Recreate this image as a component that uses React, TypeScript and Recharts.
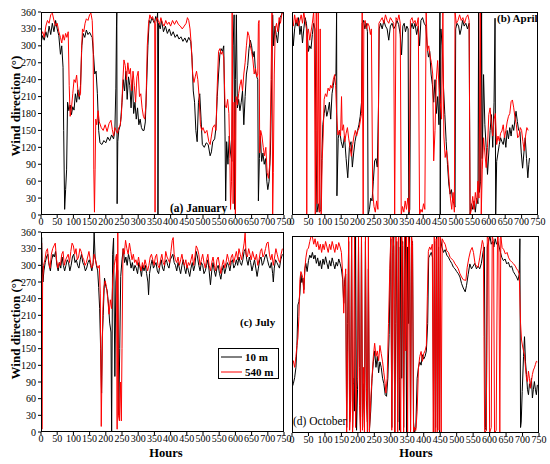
import React from 'react';
import { LineChart, Line, XAxis, YAxis } from 'recharts';

type Pt = [number, number];

const hourTicks = [0, 50, 100, 150, 200, 250, 300, 350, 400, 450, 500, 550, 600, 650, 700, 750];
const dirTicks = [0, 30, 60, 90, 120, 150, 180, 210, 240, 270, 300, 330, 360];

// January, hour / direction
const jan10: Pt[] = [
  [0,305],[5,318],[10,310],[15,325],[20,315],[25,335],[30,320],[35,340],[40,325],[45,345],[50,330],[55,318],[60,285],[64,300],[68,262],[70,150],[73,10],[76,45],[79,80],[82,200],[86,185],[90,195],[94,178],[98,192],[102,186],[106,215],[110,200],[114,222],[118,205],[122,230],[126,300],[130,322],[135,315],[140,328],[145,320],[150,324],[155,318],[158,315],[162,285],[166,250],[170,255],[174,215],[178,150],[182,128],[188,125],[194,132],[200,128],[206,138],[212,132],[218,142],[224,135],[228,150],[231,225],[233,335],[234,360],[235,20],[237,130],[240,150],[245,160],[250,200],[254,240],[258,220],[262,255],[266,205],[270,245],[274,230],[278,190],[282,240],[286,180],[290,200],[294,170],[298,190],[302,160],[306,170],[310,155],[314,150],[318,150],[322,165],[326,230],[330,300],[334,345],[338,340],[342,350],[346,345],[350,340],[354,352],[358,345],[360,360],[361,0],[363,340],[368,330],[372,345],[378,325],[384,335],[390,322],[396,330],[402,318],[408,325],[414,315],[420,320],[426,312],[432,316],[438,308],[444,314],[450,306],[456,315],[462,308],[466,280],[470,220],[474,200],[478,150],[482,130],[486,200],[490,215],[494,170],[498,125],[504,120],[510,128],[516,125],[522,105],[526,112],[530,130],[536,135],[540,155],[544,210],[548,250],[552,285],[556,295],[560,290],[564,300],[568,140],[570,25],[573,130],[577,90],[581,140],[585,110],[589,95],[593,300],[596,355],[598,10],[600,240],[603,355],[606,190],[610,205],[614,185],[618,200],[622,220],[626,160],[630,210],[634,250],[638,265],[642,295],[646,310],[650,300],[654,280],[658,290],[662,255],[666,245],[669,240],[671,25],[674,100],[677,140],[681,95],[685,110],[689,90],[693,100],[697,60],[700,45],[704,60],[708,110],[712,240],[715,355],[718,300],[722,335],[726,320],[730,305],[734,330],[738,350],[742,355],[745,360],
];
const jan540: Pt[] = [
  [0,318],[5,325],[10,315],[15,335],[20,345],[25,340],[30,355],[35,358],[40,345],[45,335],[50,340],[55,325],[60,315],[64,305],[68,320],[72,310],[76,322],[80,315],[84,325],[87,230],[90,175],[94,190],[98,215],[102,240],[106,235],[110,248],[114,220],[118,210],[122,215],[125,290],[128,330],[132,325],[136,340],[140,348],[145,345],[150,355],[154,358],[158,345],[161,300],[163,80],[165,5],[167,80],[169,170],[172,160],[176,185],[180,165],[186,155],[192,150],[198,160],[204,148],[210,162],[216,168],[220,152],[224,140],[228,155],[232,150],[236,145],[240,155],[244,158],[248,175],[252,230],[256,275],[260,265],[264,240],[268,270],[272,250],[276,260],[280,220],[284,255],[288,230],[292,200],[296,245],[300,255],[304,210],[308,215],[312,190],[316,175],[320,170],[324,195],[328,300],[332,340],[336,355],[340,348],[344,352],[348,345],[351,340],[352,5],[354,340],[358,350],[362,345],[366,338],[370,350],[375,340],[380,335],[385,345],[390,338],[395,342],[400,335],[406,345],[412,338],[418,345],[424,338],[430,335],[436,330],[442,335],[448,340],[452,350],[456,345],[460,330],[464,300],[468,250],[472,235],[476,245],[480,255],[484,240],[488,210],[492,160],[496,150],[500,155],[506,145],[512,150],[518,130],[522,125],[526,140],[530,155],[536,160],[540,150],[544,230],[548,290],[552,295],[556,285],[560,290],[564,280],[568,195],[572,190],[576,205],[580,180],[583,100],[585,10],[588,60],[590,360],[593,20],[596,200],[600,0],[602,210],[606,195],[610,215],[614,230],[618,240],[622,220],[626,250],[630,270],[634,300],[638,325],[642,318],[646,300],[650,290],[654,275],[658,250],[662,260],[666,245],[669,250],[671,340],[673,345],[675,110],[678,150],[682,140],[686,120],[690,105],[694,120],[698,75],[702,65],[706,90],[710,240],[713,360],[715,0],[717,75],[720,250],[723,330],[727,340],[731,325],[735,350],[739,340],[743,355],[746,360],
];

// April
const apr10: Pt[] = [
  [0,340],[4,300],[8,330],[12,345],[16,335],[20,350],[24,320],[28,335],[32,305],[36,330],[40,350],[44,340],[47,320],[50,290],[54,300],[58,295],[62,320],[66,340],[70,330],[73,150],[76,5],[80,20],[84,5],[88,10],[91,100],[94,160],[98,180],[102,195],[106,175],[110,185],[114,200],[118,170],[122,215],[126,230],[130,245],[134,250],[136,360],[137,34],[141,136],[145,150],[150,130],[155,119],[160,140],[165,100],[170,66],[175,120],[180,130],[184,85],[188,110],[192,130],[196,142],[200,150],[204,160],[208,175],[212,200],[214,340],[218,345],[222,330],[226,340],[230,325],[232,0],[236,10],[240,30],[244,25],[248,60],[252,96],[256,100],[260,85],[264,200],[266,330],[270,340],[275,330],[280,345],[285,335],[290,330],[295,310],[300,335],[305,340],[310,330],[315,335],[320,345],[325,338],[330,320],[334,284],[338,335],[342,340],[346,325],[350,335],[354,330],[356,0],[359,10],[362,330],[366,340],[370,330],[375,340],[380,320],[385,335],[389,300],[393,345],[398,350],[403,340],[408,335],[412,300],[416,280],[420,290],[424,250],[428,231],[432,200],[436,240],[440,180],[444,210],[448,160],[451,360],[452,0],[454,330],[458,300],[462,225],[466,178],[470,130],[474,90],[478,55],[482,37],[486,45],[490,25],[494,20],[497,14],[499,330],[503,340],[508,335],[512,320],[516,330],[520,345],[525,335],[530,340],[535,330],[540,340],[543,0],[547,20],[551,10],[555,25],[559,5],[563,30],[567,20],[569,360],[571,40],[575,60],[578,360],[580,100],[584,249],[588,160],[592,120],[596,72],[600,110],[604,150],[608,178],[612,120],[616,200],[619,349],[621,0],[624,95],[628,110],[632,125],[636,137],[640,130],[644,125],[648,140],[652,120],[656,150],[660,135],[664,155],[668,140],[672,160],[676,150],[680,170],[683,184],[687,166],[691,150],[695,148],[699,110],[703,83],[707,110],[711,137],[715,100],[719,66],[722,90],[724,101],
];
const apr540: Pt[] = [
  [0,345],[4,335],[8,355],[12,340],[16,350],[20,335],[24,345],[28,355],[32,340],[36,360],[40,345],[44,330],[45,0],[47,320],[50,330],[54,310],[58,325],[62,340],[66,360],[68,330],[71,0],[74,360],[77,20],[80,360],[83,5],[86,330],[89,0],[92,97],[95,140],[98,205],[102,215],[106,210],[110,225],[114,220],[118,230],[122,225],[126,240],[130,249],[133,230],[136,180],[140,142],[144,150],[148,140],[151,210],[153,150],[157,160],[161,130],[165,145],[169,155],[173,135],[177,120],[181,104],[185,125],[189,140],[193,150],[197,140],[201,150],[205,155],[209,170],[212,180],[214,360],[217,0],[219,340],[223,345],[227,330],[231,340],[235,335],[239,320],[242,330],[246,40],[250,15],[254,5],[258,25],[262,10],[265,340],[270,345],[275,350],[280,340],[285,355],[290,345],[295,340],[300,350],[305,345],[310,340],[313,0],[317,350],[322,345],[326,355],[330,340],[333,0],[337,15],[341,5],[345,25],[349,10],[353,30],[357,5],[361,345],[366,350],[370,340],[375,345],[380,335],[385,350],[389,0],[393,10],[397,5],[401,20],[405,10],[409,360],[413,291],[417,300],[421,282],[425,270],[429,250],[432,96],[436,150],[440,240],[444,274],[448,230],[452,200],[456,170],[460,360],[463,140],[467,102],[471,115],[475,95],[479,60],[483,30],[487,10],[491,40],[495,5],[497,360],[501,340],[506,345],[511,355],[516,345],[521,350],[526,340],[531,350],[536,355],[540,345],[543,0],[547,10],[551,33],[555,10],[559,40],[563,20],[567,60],[570,30],[574,360],[577,0],[580,80],[584,137],[588,110],[592,84],[596,120],[600,178],[604,190],[608,160],[612,140],[616,170],[620,180],[624,125],[628,140],[632,131],[636,145],[640,149],[644,160],[648,137],[652,150],[656,165],[660,175],[664,180],[668,201],[672,204],[676,190],[680,172],[684,160],[688,137],[692,140],[696,155],[700,150],[704,130],[708,114],[712,140],[716,155],[720,150],
];

// July
const jul10: Pt[] = [
  [0,325],[2,350],[4,300],[6,270],[9,290],[13,305],[17,315],[21,320],[25,300],[29,290],[33,310],[37,320],[41,315],[45,325],[49,300],[53,290],[57,305],[61,295],[65,315],[69,300],[73,290],[77,300],[81,310],[85,305],[89,290],[93,300],[97,315],[101,320],[105,305],[109,310],[113,300],[117,295],[121,310],[125,320],[129,305],[133,300],[137,290],[141,295],[145,305],[149,310],[153,300],[157,290],[161,305],[164,360],[167,315],[171,300],[175,290],[178,260],[181,222],[184,150],[187,70],[189,169],[192,210],[196,277],[200,262],[204,255],[208,232],[212,196],[216,180],[218,0],[221,320],[224,349],[228,100],[231,270],[234,300],[237,290],[240,30],[243,150],[246,280],[250,310],[254,330],[258,305],[262,315],[266,300],[270,320],[274,310],[278,295],[282,305],[286,290],[290,300],[294,295],[298,285],[302,305],[306,295],[310,280],[314,300],[318,290],[322,300],[326,285],[330,270],[332,247],[335,285],[339,300],[343,310],[347,295],[351,300],[355,305],[359,290],[363,285],[367,300],[371,310],[375,295],[379,290],[383,305],[387,310],[391,300],[395,295],[399,310],[403,315],[407,320],[411,305],[415,300],[419,290],[423,305],[427,295],[431,285],[435,300],[439,310],[443,295],[447,285],[451,300],[455,290],[459,280],[463,295],[467,305],[471,290],[475,300],[479,325],[483,315],[487,300],[491,290],[495,305],[499,300],[503,285],[507,290],[511,300],[515,310],[519,290],[523,265],[527,290],[531,305],[535,290],[539,280],[543,295],[547,300],[551,285],[555,275],[559,290],[563,300],[567,285],[571,295],[575,305],[579,300],[583,290],[587,305],[591,310],[595,295],[599,300],[603,310],[607,300],[611,315],[615,305],[619,300],[623,310],[627,325],[631,330],[635,310],[639,300],[643,315],[647,305],[651,290],[655,300],[659,310],[663,295],[667,280],[671,295],[675,310],[679,315],[683,300],[687,305],[691,315],[695,320],[699,310],[703,300],[707,295],[711,305],[715,285],[717,270],[720,295],[724,310],[728,305],[732,300],[736,295],[740,310],[745,320],
];
const jul540: Pt[] = [
  [0,320],[2,340],[3,5],[5,270],[8,300],[12,310],[16,325],[20,330],[24,305],[28,295],[32,320],[36,330],[40,335],[44,340],[48,310],[52,295],[56,305],[60,300],[64,320],[68,325],[72,300],[76,310],[80,315],[84,320],[88,305],[92,325],[96,340],[100,335],[104,320],[108,330],[112,310],[116,315],[120,330],[124,325],[128,315],[132,310],[136,300],[140,305],[144,315],[148,325],[152,310],[156,295],[160,300],[164,320],[168,310],[172,300],[176,295],[180,300],[183,250],[186,10],[188,100],[191,220],[194,260],[198,272],[202,262],[206,240],[210,212],[214,238],[218,222],[222,280],[226,300],[230,312],[233,320],[235,5],[237,360],[239,30],[242,20],[245,90],[248,20],[250,150],[253,330],[257,320],[261,345],[265,330],[269,320],[273,340],[277,325],[281,310],[285,320],[289,305],[293,310],[297,300],[301,315],[305,300],[309,290],[313,305],[317,295],[321,310],[325,300],[329,290],[333,300],[337,315],[341,320],[345,310],[349,300],[353,315],[357,320],[361,300],[365,295],[369,310],[373,320],[377,305],[381,300],[385,325],[389,315],[393,310],[397,305],[401,325],[405,345],[408,350],[411,320],[415,310],[419,305],[423,315],[427,300],[431,310],[435,320],[439,305],[443,300],[447,310],[451,295],[455,305],[459,300],[463,310],[467,320],[471,300],[475,315],[479,335],[483,330],[487,320],[491,300],[495,310],[499,320],[503,305],[507,295],[511,310],[515,320],[519,300],[523,290],[527,305],[531,315],[535,300],[539,290],[543,310],[547,315],[551,300],[555,285],[559,300],[563,310],[567,295],[571,305],[575,320],[579,310],[583,300],[587,315],[591,320],[595,305],[599,315],[603,325],[607,310],[611,330],[615,320],[619,310],[623,325],[627,340],[630,358],[633,320],[637,315],[641,330],[645,320],[649,310],[653,325],[657,315],[661,310],[665,320],[669,300],[673,310],[677,325],[681,330],[685,315],[689,320],[693,330],[697,340],[701,342],[705,320],[709,310],[713,320],[717,300],[721,315],[725,330],[729,320],[733,310],[737,305],[741,320],[745,330],
];

// October
const oct10: Pt[] = [
  [0,83],[4,90],[8,101],[12,120],[15,160],[18,234],[21,240],[24,254],[27,290],[30,275],[33,283],[36,262],[39,300],[42,310],[46,295],[50,315],[54,325],[58,320],[62,330],[66,318],[70,325],[74,310],[78,320],[82,305],[86,315],[90,300],[94,318],[98,308],[102,322],[106,310],[110,300],[114,315],[118,305],[122,320],[126,310],[130,300],[134,312],[138,305],[142,318],[146,310],[150,300],[154,280],[157,237],[160,280],[163,290],[166,10],[169,200],[172,350],[175,20],[178,60],[181,360],[184,10],[187,100],[190,40],[193,360],[196,5],[199,80],[202,340],[205,120],[208,0],[211,360],[214,30],[217,90],[220,10],[223,350],[226,60],[229,20],[232,300],[235,5],[239,40],[243,100],[247,130],[251,150],[255,120],[259,140],[263,110],[267,130],[271,120],[275,100],[279,90],[283,70],[287,67],[291,100],[295,180],[298,300],[300,355],[303,10],[306,330],[309,360],[312,0],[315,200],[318,350],[321,20],[324,340],[327,5],[330,360],[333,100],[336,350],[339,10],[342,300],[345,360],[348,0],[351,340],[354,200],[357,360],[360,5],[363,330],[366,350],[369,20],[372,0],[376,10],[380,100],[384,120],[388,130],[392,124],[396,143],[400,135],[404,140],[408,150],[412,200],[415,320],[419,325],[423,330],[427,320],[430,0],[433,350],[436,10],[439,360],[442,5],[445,340],[448,0],[451,355],[455,340],[460,330],[465,335],[470,325],[475,321],[480,315],[485,310],[490,303],[495,300],[500,295],[505,291],[510,285],[515,273],[520,265],[526,258],[530,270],[535,290],[540,309],[545,300],[550,305],[555,310],[560,300],[565,305],[570,300],[575,310],[580,330],[584,340],[587,10],[590,5],[593,340],[597,350],[601,360],[605,345],[609,350],[613,340],[617,355],[621,345],[625,350],[629,340],[633,330],[637,321],[642,315],[647,318],[652,309],[657,312],[662,303],[667,305],[672,295],[677,290],[682,285],[686,279],[690,290],[692,355],[694,10],[696,20],[699,76],[703,140],[706,176],[709,130],[712,107],[715,80],[718,70],[721,90],[724,82],[727,100],[730,64],[733,80],[736,94],[739,80],[742,70],[745,88],
];
const oct540: Pt[] = [
  [0,130],[4,132],[8,120],[12,140],[15,160],[18,174],[21,213],[24,280],[27,295],[30,290],[33,283],[36,255],[39,300],[42,320],[46,335],[50,338],[54,350],[58,360],[62,358],[66,345],[70,355],[74,340],[78,350],[82,335],[86,345],[90,330],[94,345],[98,335],[102,350],[106,340],[110,330],[114,345],[118,335],[122,350],[126,340],[130,330],[134,345],[138,335],[142,348],[146,340],[150,330],[154,290],[157,219],[160,270],[163,300],[166,0],[169,150],[172,360],[175,5],[178,40],[181,360],[184,0],[187,90],[190,360],[193,10],[196,83],[199,100],[202,360],[205,50],[208,0],[211,360],[214,5],[217,120],[220,0],[223,360],[226,80],[229,0],[232,360],[235,0],[239,60],[243,101],[247,140],[251,164],[255,140],[259,150],[263,132],[267,160],[271,145],[275,130],[279,110],[283,90],[285,73],[289,100],[293,200],[297,300],[300,360],[303,5],[306,360],[309,340],[312,0],[315,360],[318,355],[321,0],[324,360],[327,100],[330,0],[333,360],[336,340],[339,0],[342,360],[345,150],[348,360],[351,0],[354,360],[357,340],[360,0],[363,360],[366,345],[369,0],[372,10],[376,5],[380,40],[384,119],[388,140],[392,149],[396,131],[400,145],[404,150],[408,160],[411,250],[414,332],[418,340],[422,335],[426,345],[429,0],[432,360],[435,0],[438,355],[441,0],[444,360],[447,5],[450,360],[453,0],[456,355],[460,350],[465,345],[470,333],[475,330],[480,321],[485,318],[490,315],[495,309],[500,305],[505,300],[510,291],[515,285],[520,280],[528,279],[532,303],[537,320],[542,333],[547,339],[551,330],[556,309],[560,305],[565,303],[570,320],[575,340],[578,352],[581,345],[583,176],[585,0],[590,5],[593,360],[597,355],[600,0],[605,10],[608,360],[612,350],[615,0],[620,5],[624,360],[628,355],[631,0],[634,360],[638,339],[643,335],[648,327],[653,330],[658,320],[663,315],[668,312],[673,309],[678,305],[682,300],[686,297],[690,291],[694,200],[697,170],[700,159],[703,150],[706,143],[709,119],[712,100],[715,94],[718,113],[721,100],[724,82],[727,95],[730,107],[733,115],[736,119],[739,125],[742,131],[745,130],
];

const FONT = '"Liberation Serif", "Times New Roman", serif';

const toRows = (pts: Pt[]) => pts.map(([h, v]) => ({ h, v }));

interface PanelProps {
  left: number;
  top: number;
  right: number;
  bottom: number;
  s10: Pt[];
  s540: Pt[];
  showY: boolean;
}

const Panel: React.FC<PanelProps> = ({ left, top, right, bottom, s10, s540, showY }) => {
  const yw = 41;
  const mt = 8;
  const mr = 14;
  const xh = 16;
  const mb = 10;
  const w = right - left + yw + mr;
  const h = bottom - top + mt + xh + mb;
  return (
    <div style={{ position: 'absolute', left: left - yw, top: top - mt, width: w, height: h }}>
      <LineChart width={w} height={h} margin={{ top: mt, right: mr, left: 0, bottom: mb }}>
        <XAxis
          type="number"
          dataKey="h"
          domain={[0, 750]}
          ticks={hourTicks}
          interval={0}
          allowDataOverflow
          height={xh}
          tickSize={3}
          tickMargin={0}
          axisLine={false}
          stroke="#000"
          tick={{ fill: '#000', fontSize: 10, fontFamily: FONT }}
        />
        <YAxis
          type="number"
          domain={[0, 360]}
          ticks={dirTicks}
          interval={0}
          allowDataOverflow
          width={yw}
          tickSize={3}
          tickMargin={2}
          axisLine={false}
          stroke="#000"
          tick={showY ? { fill: '#000', fontSize: 10, fontFamily: FONT } : false}
        />
        <Line data={toRows(s10)} dataKey="v" type="linear" stroke="#000" strokeWidth={1} dot={false} activeDot={false} isAnimationActive={false} />
        <Line data={toRows(s540)} dataKey="v" type="linear" stroke="#ff0000" strokeWidth={1} dot={false} activeDot={false} isAnimationActive={false} />
      </LineChart>
      <div
        style={{
          position: 'absolute',
          left: yw,
          top: mt,
          width: right - left,
          height: bottom - top,
          border: '1px solid #000',
          boxSizing: 'border-box',
          pointerEvents: 'none',
        }}
      />
    </div>
  );
};

const App: React.FC = () => {
  return (
    <div style={{ position: 'absolute', left: 0, top: 0, width: 550, height: 464, background: '#fff', fontFamily: FONT }}>
      <Panel left={41} top={12} right={284} bottom={215} s10={jan10} s540={jan540} showY />
      <Panel left={292} top={12} right={538} bottom={215} s10={apr10} s540={apr540} showY={false} />
      <Panel left={41} top={232} right={284} bottom={432} s10={jul10} s540={jul540} showY />
      <Panel left={292} top={236} right={539} bottom={433} s10={oct10} s540={oct540} showY={false} />

      <svg width={550} height={464} style={{ position: 'absolute', left: 0, top: 0, pointerEvents: 'none' }}>
        <g fontFamily={FONT} fill="#000">
          <text x={15} y={106} transform="rotate(-90 15 106)" textAnchor="middle" dominantBaseline="central" fontSize={13} fontWeight="bold">
            Wind direction (°)
          </text>
          <text x={15} y={329} transform="rotate(-90 15 329)" textAnchor="middle" dominantBaseline="central" fontSize={13} fontWeight="bold">
            Wind direction (°)
          </text>
          <text x={166} y={457} textAnchor="middle" fontSize={12.5} fontWeight="bold">Hours</text>
          <text x={416} y={457} textAnchor="middle" fontSize={12.5} fontWeight="bold">Hours</text>
          <text x={170} y={212} fontSize={11.5} fontWeight="bold">(a) January</text>
          <text x={497} y={22} fontSize={11} fontWeight="bold">(b) April</text>
          <text x={240} y={326} fontSize={11} fontWeight="bold">(c) July</text>
          <text x={293} y={425} fontSize={11.5}>(d) October</text>
        </g>
        <g>
          <rect x={218.5} y={348.5} width={60} height={30} fill="#fff" stroke="#000" strokeWidth={1} />
          <line x1={221} y1={357} x2={242} y2={357} stroke="#000" strokeWidth={1} />
          <line x1={221} y1={372} x2={242} y2={372} stroke="#ff0000" strokeWidth={1} />
          <text x={245} y={361} fontFamily={FONT} fontSize={11} fontWeight="bold">10 m</text>
          <text x={245} y={376} fontFamily={FONT} fontSize={11} fontWeight="bold">540 m</text>
        </g>
      </svg>
    </div>
  );
};

export default App;
